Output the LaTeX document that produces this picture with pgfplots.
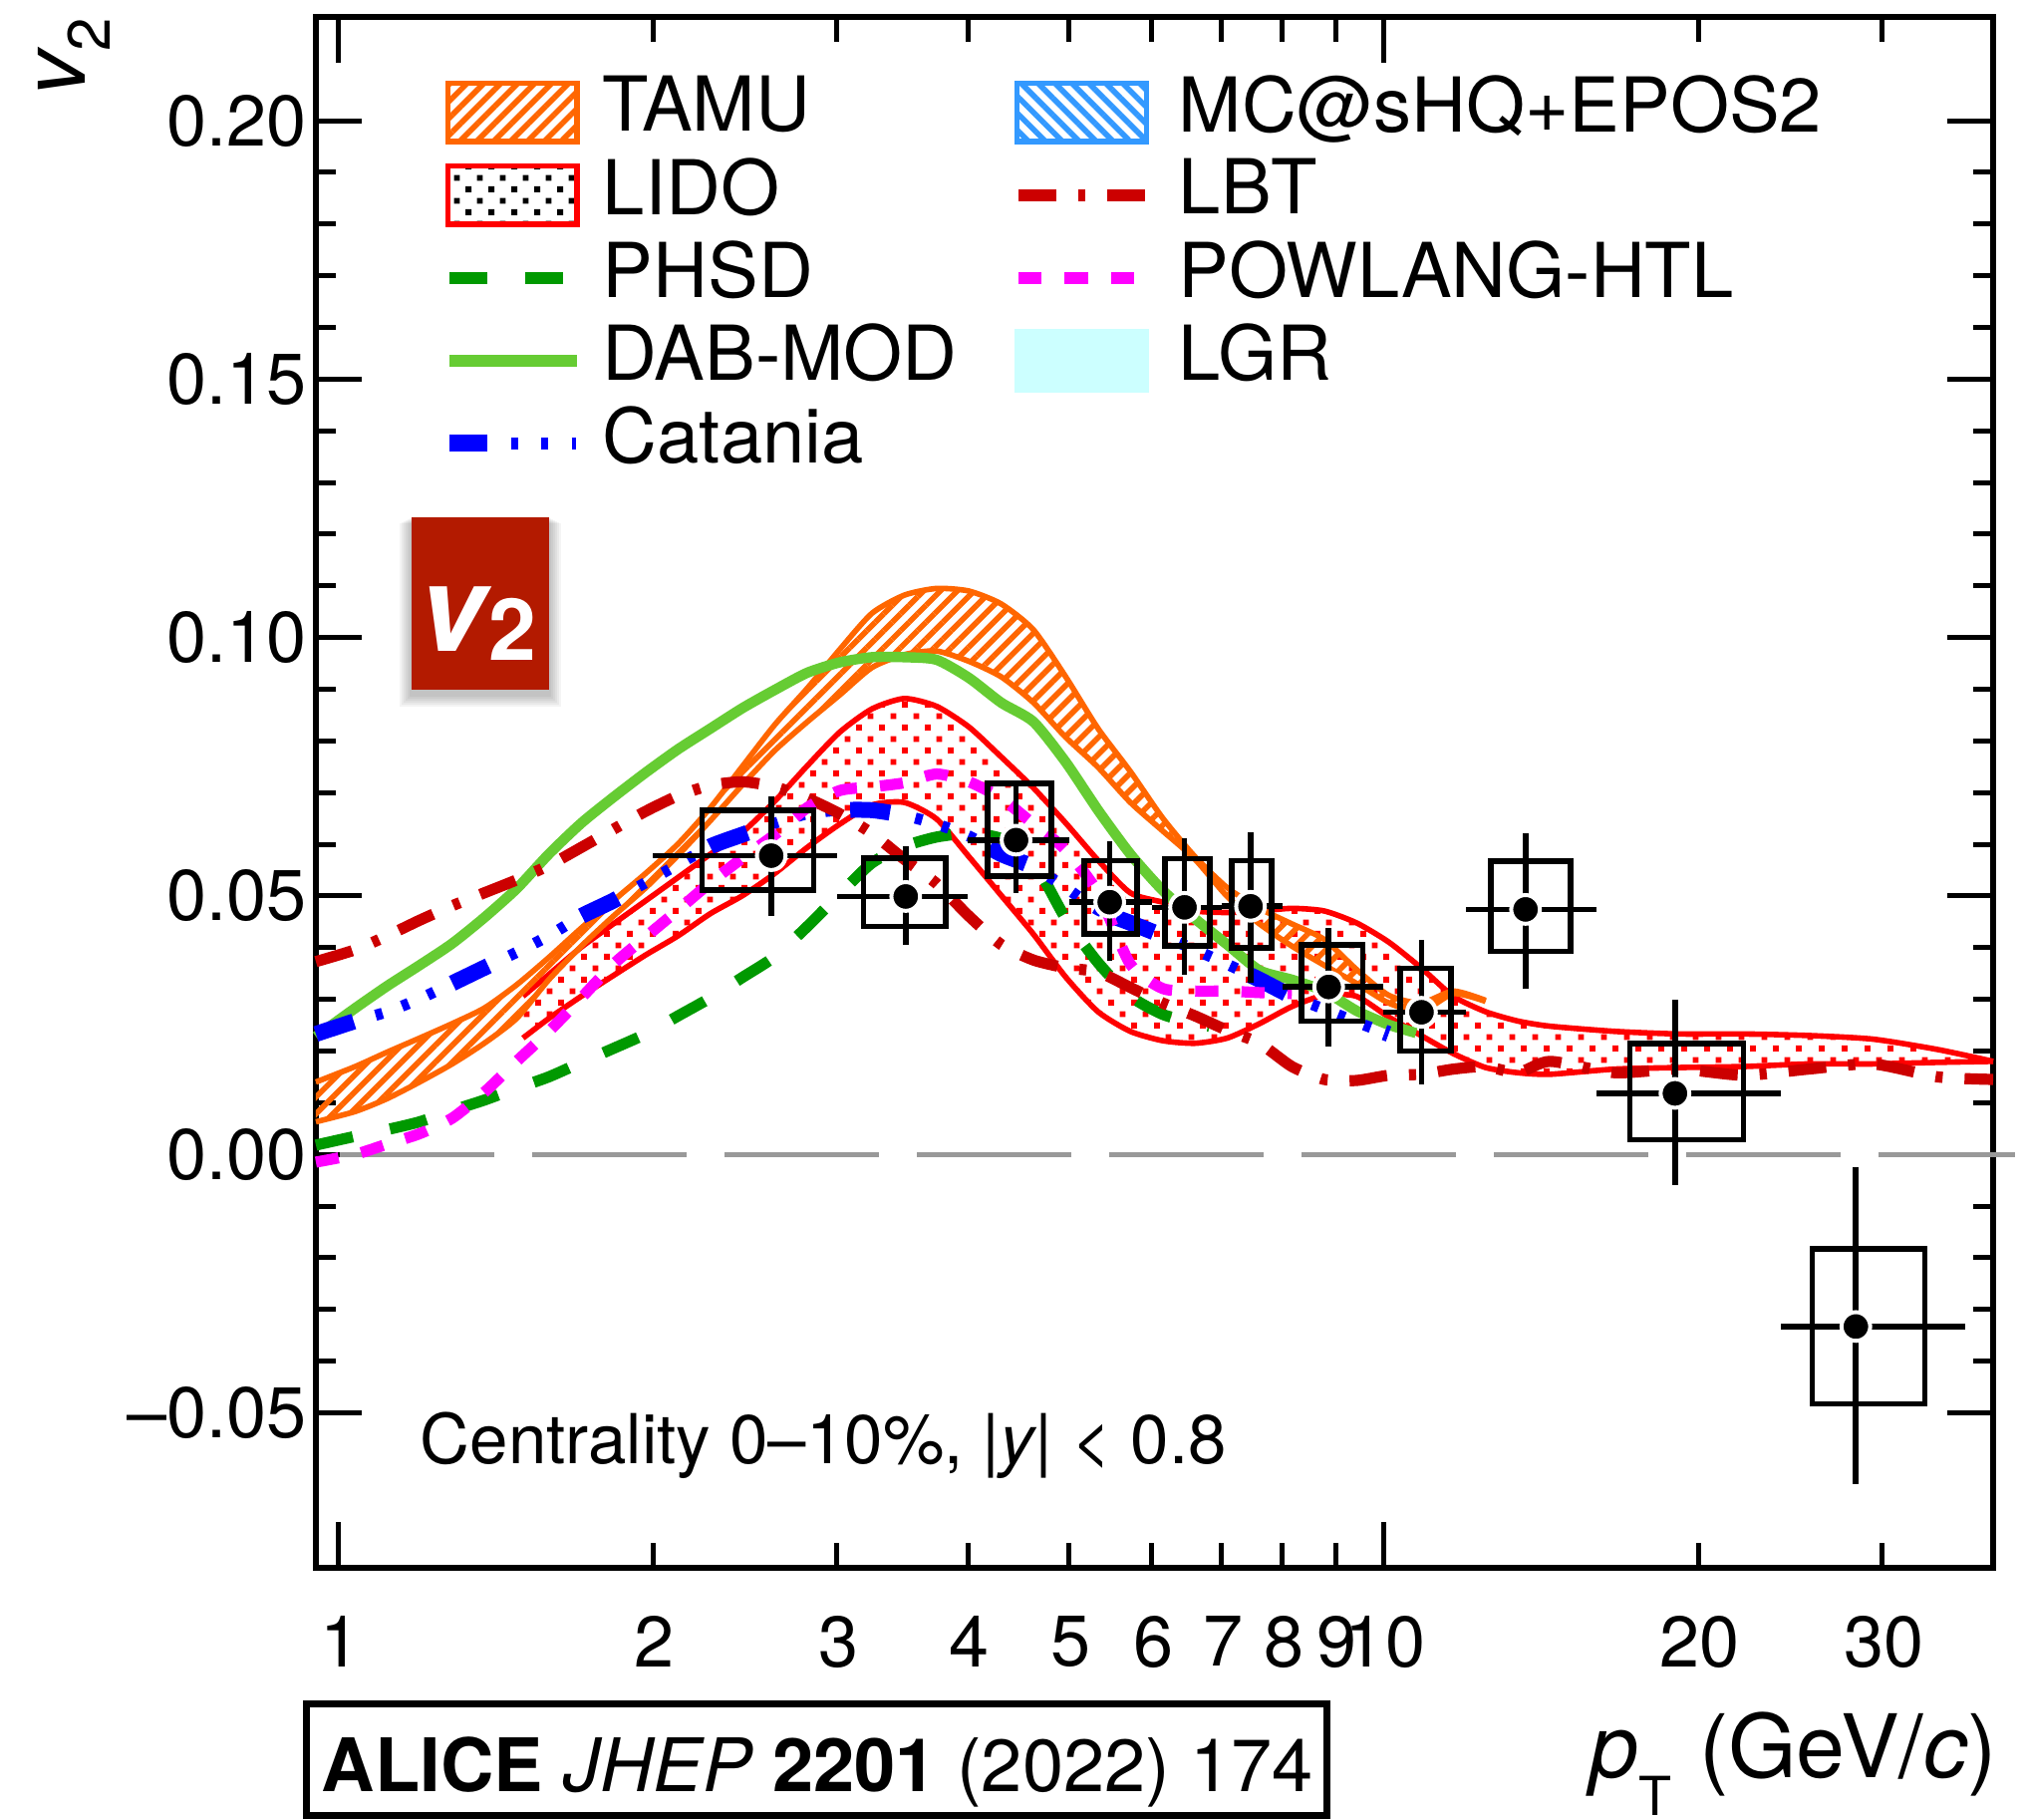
\documentclass[border=0pt]{standalone}
\usepackage{fontspec}
\setmainfont{TeX Gyre Heros}
\usepackage{pgfplots}
\pgfplotsset{compat=1.18}
\usetikzlibrary{patterns,patterns.meta}
\definecolor{tamu}{HTML}{FF6600}
\definecolor{mcs}{HTML}{3399FF}
\definecolor{phsd}{HTML}{009900}
\definecolor{dab}{HTML}{66CC33}
\definecolor{lbt}{HTML}{CC0000}
\definecolor{lgr}{HTML}{CCFFFF}
\definecolor{badge}{HTML}{B31A00}
\definecolor{zline}{HTML}{999999}
\definecolor{powl}{HTML}{FF00FF}
\definecolor{lidored}{HTML}{FF0000}
\definecolor{catblue}{HTML}{0000FF}
\tikzdeclarepattern{name=sqdots,type=uncolored,bounding box={(0pt,0pt) and (5.83pt,5.83pt)},tile size={(5.83pt,5.83pt)},
  code={\fill (0.3pt,0.3pt) rectangle (1.8pt,1.8pt); \fill (3.215pt,3.215pt) rectangle (4.715pt,4.715pt);}}
\newcommand{\fsz}[1]{\fontsize{#1}{#1}\selectfont}
\newcommand{\legbox}{\pgfpathrectangle{\pgfpoint{0pt}{-11.85pt}}{\pgfpoint{32pt}{19pt}}\pgfusepath{use as bounding box}}
\tikzset{
  tamuhatch/.style={pattern={Lines[angle=45,distance=3pt,line width=1.4pt]},pattern color=tamu},
  mchatch/.style={pattern={Lines[angle=-45,distance=3pt,line width=1.4pt]},pattern color=mcs},
  catdash/.style={dash pattern=on 10pt off 26.6pt},
  cattick/.style={dash pattern=on 1.8pt off 5.2pt on 1.8pt off 5.2pt on 1.8pt off 21pt,dash phase=21.1pt},
  lbtdash/.style={dash pattern=on 9.5pt off 5.5pt on 1.8pt off 5.5pt},
  phsddash/.style={dash pattern=on 9.5pt off 9.5pt},
  powdash/.style={dash pattern=on 5.8pt off 5.8pt},
  soft/.style={smooth,tension=0.4,line join=round}
}
\pgfplotsset{
  rectleg/.style={legend image code/.code={\legbox\draw[##1] (-0.35pt,-8.85pt) rectangle (32.1pt,5.75pt);}},
  lineleg/.style={legend image code/.code={\legbox\draw[##1] (0pt,-1.55pt) -- (32pt,-1.55pt);}},
  catleg/.style={legend image code/.code={\legbox
     \draw[catblue,line width=4.2pt,dash pattern=on 9.5pt off 30pt] (0pt,-1.55pt) -- (32pt,-1.55pt);
     \draw[catblue,line width=3pt,dash pattern=on 0pt off 15.5pt on 1.8pt off 5.8pt on 1.8pt off 5.8pt on 1.1pt off 9pt] (0pt,-1.55pt) -- (32pt,-1.55pt);}}
}
\pgfplotstableread{
x y
0.9518 .0233
1.038 .0258
1.114 .0276
1.196 .0301
1.285 .0331
1.379 .0361
1.481 .0391
1.590 .0423
1.708 .0461
1.833 .0491
1.969 .0526
2.114 .0561
2.270 .0596
2.438 .0619
2.617 .0641
2.810 .0659
3.018 .0666
3.240 .0666
3.479 .0656
3.735 .0639
4.011 .0616
4.307 .0581
4.624 .0556
4.965 .0516
5.331 .0473
5.724 .0448
6.146 .0423
6.600 .0396
7.086 .0368
7.609 .0338
8.170 .0306
8.773 .0281
9.419 .0256
10.11 .0233
}\catania
\pgfplotstableread{
x y xm xp ym yp
2.595 .0578 .595 .405 .0116 .0115
3.49 .0499 .49 .51 .0094 .0097
4.45 .0608 .45 .55 .0103 .0107
5.47 .0488 .47 .53 .0114 .0118
6.45 .0478 .45 .55 .0131 .0133
7.46 .0480 .46 .54 .0147 .0144
8.86 .0324 .86 1.14 .0116 .0114
10.87 .0275 .87 1.13 .0140 .0140
13.67 .0474 1.67 2.33 .0153 .0147
19.0 .0118 3.0 5.0 .0178 .0182
28.3 -.0333 4.3 7.7 .0305 .0308
}\points
\pgfplotstableread{
x y
1.502 .0306
1.590 .0348
1.708 .0401
1.833 .0446
1.969 .0491
2.114 .0536
2.270 .0581
2.438 .0624
2.617 .0684
2.810 .0752
3.018 .0817
3.240 .0862
3.479 .0882
3.735 .0867
4.011 .0827
4.307 .0769
4.624 .0709
4.965 .0641
5.331 .0569
5.724 .0506
6.146 .0488
6.600 .0471
7.086 .0468
7.609 .0471
8.170 .0476
8.773 .0471
9.419 .0448
10.11 .0411
10.86 .0361
11.66 .0306
12.52 .0276
13.44 .0258
14.43 .0248
16.64 .0238
19.18 .0233
22.11 .0233
25.49 .0230
29.38 .0223
33.87 .0203
38.3 .0180
}\lidoup
\pgfplotstableread{
x y
1.502 .0225
1.590 .0263
1.708 .0306
1.833 .0346
1.969 .0386
2.114 .0423
2.270 .0466
2.438 .0501
2.617 .0544
2.810 .0594
3.018 .0639
3.240 .0676
3.479 .0681
3.735 .0649
4.011 .0576
4.307 .0501
4.624 .0426
4.965 .0343
5.331 .0276
5.724 .0238
6.146 .0220
6.600 .0215
7.086 .0225
7.609 .0253
8.170 .0286
8.773 .0308
9.419 .0306
10.11 .0266
10.86 .0230
11.66 .0195
12.52 .0168
13.44 .0158
14.43 .0155
16.64 .0165
19.18 .0168
22.11 .0170
25.49 .0175
29.38 .0175
33.87 .0178
38.3 .0180
}\lidolow
\pgfplotstableread{
x y
0.9518 .0140
1.038 .0170
1.114 .0198
1.196 .0225
1.285 .0253
1.379 .0283
1.481 .0328
1.590 .0381
1.708 .0438
1.833 .0491
1.969 .0544
2.114 .0601
2.270 .0671
2.438 .0752
2.617 .0832
2.810 .0902
3.018 .0977
3.240 .1047
3.479 .1082
3.735 .1095
4.011 .1090
4.307 .1065
4.624 .1015
4.965 .0924
5.331 .0824
5.724 .0741
6.146 .0651
6.600 .0576
7.086 .0516
7.609 .0476
8.170 .0446
8.773 .0416
9.419 .0358
10.11 .0308
10.86 .0293
11.66 .0316
12.52 .0298
}\tamuup
\pgfplotstableread{
x y
0.9518 .0063
1.038 .0083
1.114 .0108
1.196 .0140
1.285 .0175
1.379 .0215
1.481 .0263
1.590 .0338
1.708 .0403
1.833 .0461
1.969 .0516
2.114 .0579
2.270 .0646
2.438 .0716
2.617 .0782
2.810 .0837
3.018 .0889
3.240 .0942
3.479 .0967
3.735 .0974
4.011 .0954
4.307 .0924
4.624 .0874
4.965 .0807
5.331 .0749
5.724 .0681
6.146 .0626
6.600 .0571
7.086 .0499
7.609 .0446
8.170 .0403
8.773 .0366
9.419 .0331
10.11 .0293
10.86 .0276
11.66 .0311
12.52 .0296
}\tamulow
\begin{document}
\begin{tikzpicture}
\path[use as bounding box] (-79.25pt,-63pt) rectangle (429.25pt,393.25pt);
\begin{axis}[
  scale only axis, width=420.75pt, height=388.9pt,
  xmode=log, xmin=0.9518, xmax=38.3, ymin=-0.08, ymax=0.22,
  clip=false,
  axis line style={line width=1.5pt},
  tick align=inside,
  xtick={1,10}, xticklabels={1,10},
  xminorticks=false,
  extra x ticks={2,3,4,5,6,7,8,9,20,30},
  extra x tick labels={2,3,4,5,6,7,8,9,20,30},
  extra x tick style={major tick length=6.25pt},
  ytick={-0.05,0,0.05,0.10,0.15,0.20},
  yticklabels={–0.05,0.00,0.05,0.10,0.15,0.20},
  minor y tick num=4,
  major tick length=11.5pt, minor tick length=5pt,
  every tick/.append style={line width=1.25pt,black},
  tick label style={font=\fsz{18}},
  xticklabel style={inner sep=0pt,yshift=-12pt,xshift=0.4pt},
  yticklabel style={inner sep=0pt,xshift=-2.25pt},
  xlabel={{\fsz{22}\itshape p}\raisebox{-9.5pt}{\fsz{13.5}T}\hspace{7pt}{\fsz{22}(GeV/{\itshape c})}},
  ylabel={{\fsz{22.5}\itshape v}\raisebox{-6.25pt}{\fsz{15}2}},
  every axis x label/.style={at={(axis description cs:1.0025,-0.135)},anchor=base east,inner sep=0pt},
  every axis y label/.style={at={(axis description cs:-0.1373,1.0003)},anchor=base east,rotate=90,inner sep=0pt},
  legend columns=2,
  legend cell align=left,
  legend style={at={(axis description cs:0.079,0.9633)},anchor=north west,draw=none,fill=none,inner sep=0pt,
    font=\fsz{19},row sep=1.05pt,
    nodes={inner sep=0pt},
    /tikz/column 1/.style={column sep=6.5pt},
    /tikz/column 2/.style={column sep=15.35pt},
    /tikz/column 3/.style={column sep=8.25pt}},
]
\addplot[forget plot,zline,line width=1.25pt,dash pattern=on 38.7pt off 9.55pt,dash phase=42.25pt] coordinates {(0.9518,0)(40.2,0)};
\addplot[forget plot,draw=none,pattern=sqdots,pattern color=lidored] coordinates {
(1.502,.0306)(1.590,.0348)(1.708,.0401)(1.833,.0446)(1.969,.0491)(2.114,.0536)(2.270,.0581)(2.438,.0624)(2.617,.0684)(2.810,.0752)(3.018,.0817)(3.240,.0862)(3.479,.0882)(3.735,.0867)(4.011,.0827)(4.307,.0769)(4.624,.0709)(4.965,.0641)(5.331,.0569)(5.724,.0506)(6.146,.0488)(6.600,.0471)(7.086,.0468)(7.609,.0471)(8.170,.0476)(8.773,.0471)(9.419,.0448)(10.11,.0411)(10.86,.0361)(11.66,.0306)(12.52,.0276)(13.44,.0258)(14.43,.0248)(16.64,.0238)(19.18,.0233)(22.11,.0233)(25.49,.0230)(29.38,.0223)(33.87,.0203)(38.3,.0180)
(33.87,.0178)(29.38,.0175)(25.49,.0175)(22.11,.0170)(19.18,.0168)(16.64,.0165)(14.43,.0155)(13.44,.0158)(12.52,.0168)(11.66,.0195)(10.86,.0230)(10.11,.0266)(9.419,.0306)(8.773,.0308)(8.170,.0286)(7.609,.0253)(7.086,.0225)(6.600,.0215)(6.146,.0220)(5.724,.0238)(5.331,.0276)(4.965,.0343)(4.624,.0426)(4.307,.0501)(4.011,.0576)(3.735,.0649)(3.479,.0681)(3.240,.0676)(3.018,.0639)(2.810,.0594)(2.617,.0544)(2.438,.0501)(2.270,.0466)(2.114,.0423)(1.969,.0386)(1.833,.0346)(1.708,.0306)(1.590,.0263)(1.502,.0225)
} -- cycle;
\addplot[forget plot,lidored,line width=1.4pt,soft] table[x=x,y=y] {\lidoup};
\addplot[forget plot,lidored,line width=1.4pt,soft] table[x=x,y=y] {\lidolow};
\addplot[forget plot,draw=none,tamuhatch] coordinates {
(0.9518,.0140)(1.038,.0170)(1.114,.0198)(1.196,.0225)(1.285,.0253)(1.379,.0283)(1.481,.0328)(1.590,.0381)(1.708,.0438)(1.833,.0491)(1.969,.0544)(2.114,.0601)(2.270,.0671)(2.438,.0752)(2.617,.0832)(2.810,.0902)(3.018,.0977)(3.240,.1047)(3.479,.1082)(3.735,.1095)(4.011,.1090)(4.307,.1065)(4.624,.1015)(4.965,.0924)(5.331,.0824)(5.724,.0741)(6.146,.0651)(6.600,.0576)(7.086,.0516)(7.609,.0476)(8.170,.0446)(8.773,.0416)(9.419,.0358)(10.11,.0308)(10.86,.0293)(11.66,.0316)(12.52,.0298)
(11.66,.0311)(10.86,.0276)(10.11,.0293)(9.419,.0331)(8.773,.0366)(8.170,.0403)(7.609,.0446)(7.086,.0499)(6.600,.0571)(6.146,.0626)(5.724,.0681)(5.331,.0749)(4.965,.0807)(4.624,.0874)(4.307,.0924)(4.011,.0954)(3.735,.0974)(3.479,.0967)(3.240,.0942)(3.018,.0889)(2.810,.0837)(2.617,.0782)(2.438,.0716)(2.270,.0646)(2.114,.0579)(1.969,.0516)(1.833,.0461)(1.708,.0403)(1.590,.0338)(1.481,.0263)(1.379,.0215)(1.285,.0175)(1.196,.0140)(1.114,.0108)(1.038,.0083)(0.9518,.0063)
} -- cycle;
\addplot[forget plot,tamu,line width=1.4pt,soft] table[x=x,y=y] {\tamuup};
\addplot[forget plot,tamu,line width=1.4pt,soft] table[x=x,y=y] {\tamulow};
\addplot[forget plot,phsd,line width=2.8pt,phsddash,soft] coordinates {
(0.9518,.0018)(1.038,.0035)(1.114,.0048)(1.196,.0063)(1.285,.0085)(1.379,.0105)(1.481,.0128)(1.590,.0150)(1.708,.0178)(1.833,.0205)(1.969,.0233)(2.114,.0268)(2.270,.0303)(2.438,.0343)(2.617,.0383)(2.810,.0441)(3.018,.0504)(3.240,.0564)(3.479,.0596)(3.735,.0614)(4.011,.0621)(4.307,.0611)(4.624,.0566)(4.965,.0456)(5.331,.0371)(5.724,.0306)(6.146,.0271)(6.600,.0253)(6.81,.0248)};
\addplot[forget plot,dab,line width=2.6pt,soft] coordinates {
(0.9518,.0228)(1.038,.0283)(1.114,.0326)(1.196,.0366)(1.285,.0408)(1.379,.0458)(1.481,.0514)(1.590,.0581)(1.708,.0641)(1.833,.0691)(1.969,.0739)(2.114,.0784)(2.270,.0824)(2.438,.0864)(2.617,.0899)(2.810,.0932)(3.018,.0952)(3.240,.0962)(3.479,.0962)(3.735,.0957)(4.011,.0922)(4.307,.0874)(4.624,.0837)(4.965,.0759)(5.331,.0666)(5.724,.0581)(6.146,.0511)(6.600,.0456)(7.086,.0406)(7.609,.0356)(8.170,.0338)(8.773,.0316)(9.419,.0278)(10.11,.0251)(10.74,.0235)};
\addplot[forget plot,catblue,line width=4pt,catdash,soft] table[x=x,y=y] {\catania};
\addplot[forget plot,catblue,line width=2.8pt,cattick,soft] table[x=x,y=y] {\catania};
\addplot[forget plot,lbt,line width=2.8pt,lbtdash,soft] coordinates {
(0.9518,.0373)(1.038,.0396)(1.114,.0423)(1.196,.0453)(1.285,.0481)(1.379,.0506)(1.481,.0531)(1.590,.0559)(1.708,.0594)(1.833,.0629)(1.969,.0664)(2.114,.0694)(2.270,.0714)(2.438,.0721)(2.617,.0711)(2.810,.0689)(3.018,.0659)(3.240,.0621)(3.479,.0571)(3.735,.0524)(4.011,.0461)(4.307,.0406)(4.624,.0376)(4.965,.0361)(5.331,.0353)(5.724,.0323)(6.146,.0293)(6.600,.0268)(7.086,.0240)(7.609,.0215)(8.170,.0170)(8.773,.0145)(9.419,.0143)(10.11,.0153)(10.86,.0155)(11.66,.0165)(12.52,.0170)(13.44,.0158)(14.43,.0180)(16.64,.0158)(19.18,.0165)(22.11,.0153)(25.49,.0165)(29.38,.0175)(33.87,.0150)(38.3,.0145)};
\addplot[forget plot,powl,line width=2.8pt,powdash,soft] coordinates {
(0.9518,-.0015)(1.038,0)(1.114,.0020)(1.196,.0040)(1.285,.0070)(1.379,.0120)(1.481,.0180)(1.590,.0238)(1.708,.0303)(1.833,.0368)(1.969,.0421)(2.114,.0473)(2.270,.0526)(2.438,.0574)(2.617,.0619)(2.810,.0671)(3.018,.0704)(3.240,.0711)(3.479,.0719)(3.735,.0736)(4.011,.0721)(4.307,.0689)(4.624,.0639)(4.965,.0589)(5.331,.0506)(5.724,.0368)(6.146,.0321)(6.600,.0316)(7.086,.0316)(7.609,.0313)(8.170,.0311)};
\addplot[forget plot,black,line width=1.4pt] coordinates {(2.228,.0512)(2.85,.0512)(2.85,.0666)(2.228,.0666)} -- cycle;
\addplot[forget plot,black,line width=1.4pt] coordinates {(3.18,.0441)(3.81,.0441)(3.81,.0573)(3.18,.0573)} -- cycle;
\addplot[forget plot,black,line width=1.4pt] coordinates {(4.18,.0538)(4.81,.0538)(4.81,.0718)(4.18,.0718)} -- cycle;
\addplot[forget plot,black,line width=1.4pt] coordinates {(5.17,.0426)(5.81,.0426)(5.81,.0568)(5.17,.0568)} -- cycle;
\addplot[forget plot,black,line width=1.4pt] coordinates {(6.18,.0403)(6.82,.0403)(6.82,.0572)(6.18,.0572)} -- cycle;
\addplot[forget plot,black,line width=1.4pt] coordinates {(7.16,.0400)(7.81,.0400)(7.81,.0568)(7.16,.0568)} -- cycle;
\addplot[forget plot,black,line width=1.4pt] coordinates {(8.35,.0258)(9.55,.0258)(9.55,.0405)(8.35,.0405)} -- cycle;
\addplot[forget plot,black,line width=1.4pt] coordinates {(10.37,.0200)(11.6,.0200)(11.6,.0360)(10.37,.0360)} -- cycle;
\addplot[forget plot,black,line width=1.4pt] coordinates {(12.66,.0393)(15.09,.0393)(15.09,.0567)(12.66,.0567)} -- cycle;
\addplot[forget plot,black,line width=1.4pt] coordinates {(17.2,.0028)(22.1,.0028)(22.1,.0215)(17.2,.0215)} -- cycle;
\addplot[forget plot,black,line width=1.4pt] coordinates {(25.7,-.0483)(32.96,-.0483)(32.96,-.0183)(25.7,-.0183)} -- cycle;
\addplot[forget plot,only marks,mark=*,mark size=3.6pt,
  mark options={fill=black,draw=white,line width=1pt},
  error bars/.cd,x dir=both,y dir=both,x explicit,y explicit,error mark=none,
  error bar style={black,line width=1.4pt}]
 table[x=x,y=y,x error plus=xp,x error minus=xm,y error plus=yp,y error minus=ym] {\points};
\addlegendimage{rectleg,draw=tamu,line width=1.4pt,tamuhatch}\addlegendentry{TAMU}
\addlegendimage{rectleg,draw=mcs,line width=1.4pt,mchatch}\addlegendentry{MC@sHQ+EPOS2}
\addlegendimage{rectleg,draw=lidored,line width=1.4pt,pattern=sqdots,pattern color=black}\addlegendentry{LIDO}
\addlegendimage{lineleg,lbt,line width=2.9pt,lbtdash}\addlegendentry{LBT}
\addlegendimage{lineleg,phsd,line width=2.9pt,phsddash}\addlegendentry{PHSD}
\addlegendimage{lineleg,powl,line width=2.9pt,powdash}\addlegendentry{POWLANG-HTL}
\addlegendimage{lineleg,dab,line width=2.9pt}\addlegendentry{DAB-MOD}
\addlegendimage{rectleg,draw=lgr,line width=1.4pt,fill=lgr}\addlegendentry{LGR}
\addlegendimage{catleg}\addlegendentry{Catania}
\end{axis}
\begin{scope}[shift={(-79.25pt,393.25pt)},x=.25pt,y=-.25pt]
  \foreach \d in {2,4,...,12}{\fill[black,opacity=.045] (413-\d,519+\d/2) rectangle (551+\d,692+\d+5);}
  \fill[badge] (413,519) rectangle (551,692);
  \node[anchor=base west,inner sep=0pt,white,font=\fsz{30}\bfseries\itshape] at (420,653) {v};
  \node[anchor=base west,inner sep=0pt,white,font=\fsz{21.5}\bfseries] at (490,662) {2};
  \node[anchor=base west,inner sep=0pt,font=\fsz{17.27}] at (421,1468) {Centrality 0–10\%, |{\itshape y}| < 0.8};
  \draw[line width=1.75pt] (307.5,1709.5) rectangle (1331.5,1821);
  \node[anchor=base west,inner sep=0pt,font=\fsz{18.5}] at (322,1797) {{\bfseries ALICE} {\itshape JHEP} {\bfseries 2201} (2022) 174};
\end{scope}
\end{tikzpicture}
\end{document}
